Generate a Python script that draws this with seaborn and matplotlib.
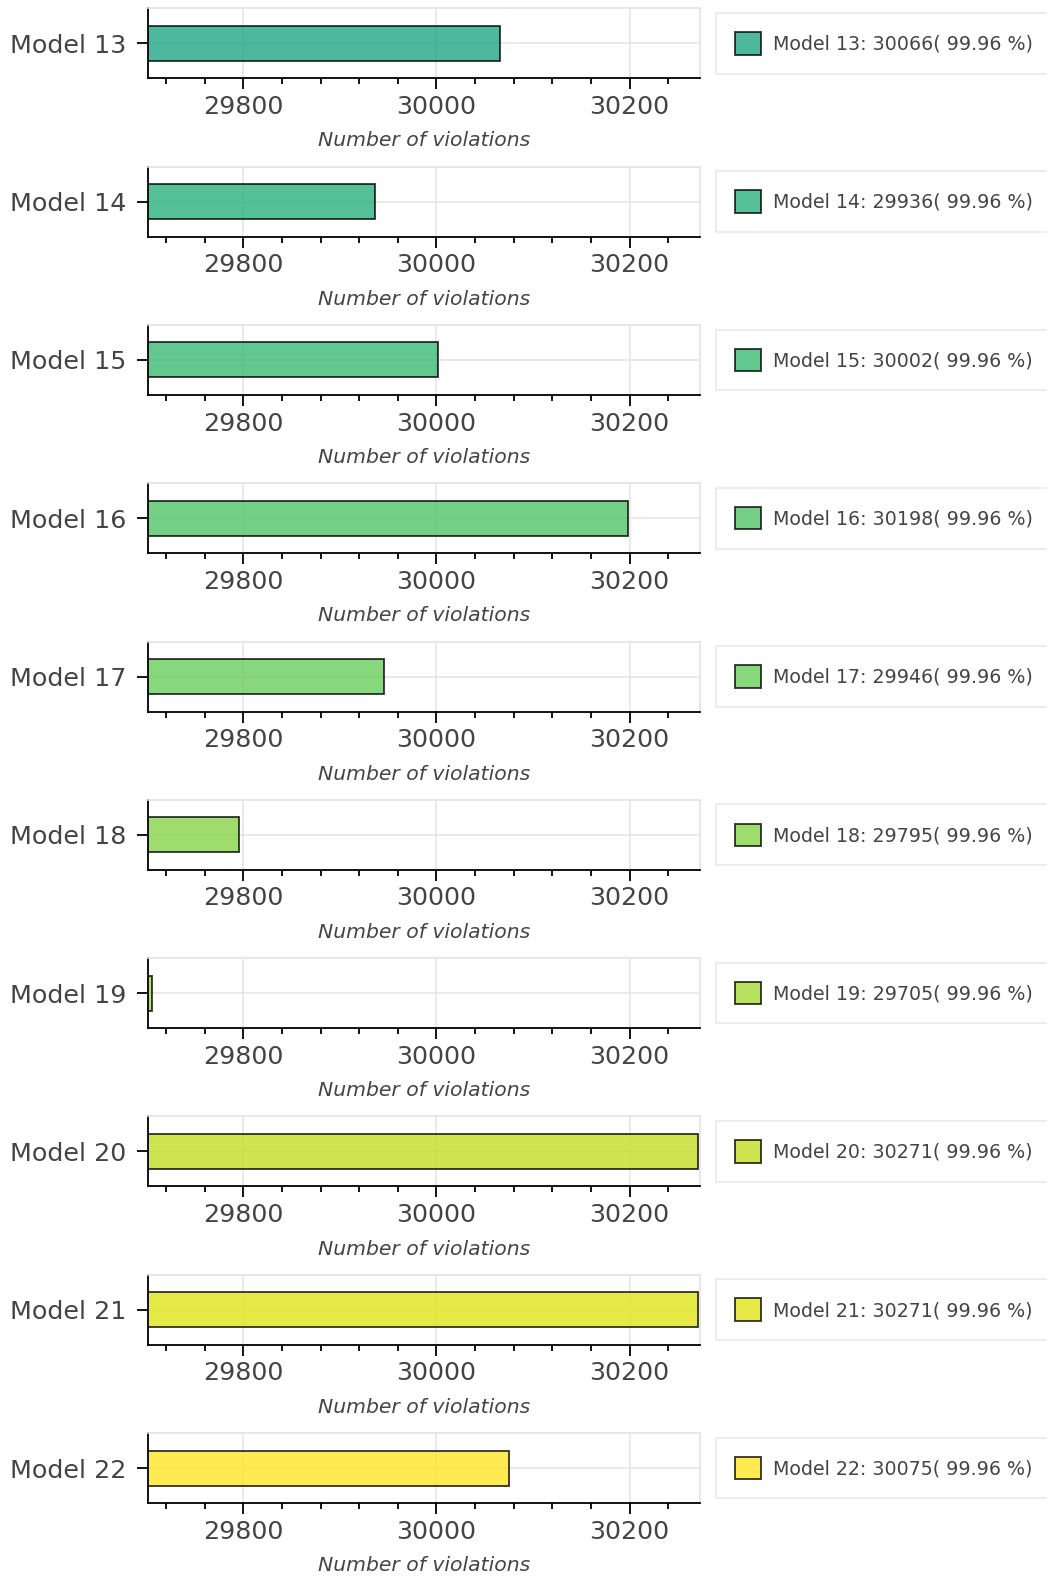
import numpy as np
import pandas as pd
import matplotlib
matplotlib.use("Agg")
import matplotlib.pyplot as plt
import seaborn as sns
from matplotlib.ticker import MultipleLocator

models = ["Model 13", "Model 14", "Model 15", "Model 16", "Model 17",
          "Model 18", "Model 19", "Model 20", "Model 21", "Model 22"]
violations = [30066, 29936, 30002, 30198, 29946, 29795, 29705, 30271, 30271, 30075]
percents = ["99.96"] * 10
model_index = [13, 14, 15, 16, 17, 18, 19, 20, 21, 22]
n_total_models = 23

sns.set_style("white")
plt.rcParams['font.family'] = ['DejaVu Sans']

cmap = plt.cm.viridis
colors = [cmap(i / (n_total_models - 1)) for i in model_index]

fig = plt.figure(figsize=(10.47, 15.77), dpi=100)
W, H = 1047, 1577
ax_left = 148.3 / W
ax_width = (700 - 148.3) / W
ax_h = 70 / H
top0 = 8.3
step = 158.3

label_color = "#444444"

for i, (m, v, p, c) in enumerate(zip(models, violations, percents, colors)):
    top = top0 + i * step
    ax = fig.add_axes([ax_left, 1 - (top + 70) / H, ax_width, ax_h])
    df = pd.DataFrame({"model": [m], "violations": [v]})
    sns.barplot(data=df, x="violations", y="model", orient="h", ax=ax,
                color=c, saturation=1, width=0.5, edgecolor="black", linewidth=1.3,
                alpha=0.8, label=f"{m}: {v}( {p} %)", zorder=2)
    ax.set_xlim(29701.5, 30273)
    ax.set_ylim(0.5, -0.5)
    ax.xaxis.set_major_locator(MultipleLocator(200))
    ax.xaxis.set_minor_locator(MultipleLocator(40))
    ax.grid(True, which="major", color="#e6e6e6", linewidth=1.2, zorder=0)
    ax.set_axisbelow(True)
    for s in ["top", "right"]:
        ax.spines[s].set_color("#e3e3e3")
        ax.spines[s].set_linewidth(1.2)
    for s in ["left", "bottom"]:
        ax.spines[s].set_color("black")
        ax.spines[s].set_linewidth(1.3)
    ax.tick_params(axis="x", which="major", direction="out", length=8, width=1.3,
                   color="black", labelsize=18.3, labelcolor=label_color, pad=4,
                   bottom=True)
    ax.tick_params(axis="x", which="minor", direction="out", length=4.5, width=1.3,
                   color="black", bottom=True)
    ax.tick_params(axis="y", which="major", direction="out", length=8, width=1.3,
                   color="black", labelsize=18.3, labelcolor=label_color, pad=8,
                   left=True)
    ax.set_ylabel("")
    ax.set_xlabel("Number of violations", fontsize=14.7, style="italic",
                  color=label_color, labelpad=9)
    leg = ax.legend(loc="center left", bbox_to_anchor=(1.029, 0.0, 0.75, 1.0),
                    mode="expand", fontsize=13.7, frameon=True, fancybox=False,
                    borderpad=1.0, handlelength=1.37, handleheight=1.45,
                    handletextpad=0.62, borderaxespad=0)
    leg.get_frame().set_edgecolor("#e3e3e3")
    leg.get_frame().set_linewidth(1.2)
    for t in leg.get_texts():
        t.set_color(label_color)
    for h in leg.legend_handles:
        h.set_alpha(0.8)
        h.set_edgecolor("black")
        h.set_linewidth(1.3)

fig.savefig("out.png", dpi=100)
